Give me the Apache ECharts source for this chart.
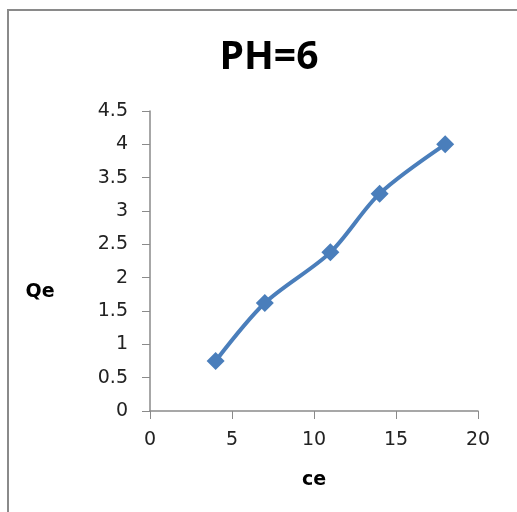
<!DOCTYPE html>
<html><head><meta charset="utf-8">
<script src="https://cdn.jsdelivr.net/npm/echarts@6/dist/echarts.min.js"></script>
<style>html,body{margin:0;padding:0;background:#fff}#c{width:517px;height:512px}</style>
</head><body><div id="c"></div>
<script>
const ceValues = [4, 7, 11, 14, 18];
const qeValues = [0.75, 1.62, 2.38, 3.26, 4.0];
const titleText = 'PH=6';
const xName = 'ce';
const yName = 'Qe';

const chart = echarts.init(document.getElementById('c'), null, {renderer: 'canvas'});
chart.setOption({
  animation: false,
  backgroundColor: '#ffffff',
  graphic: [{
    type: 'rect', shape: {x: 8, y: 10, width: 620, height: 620},
    style: {fill: 'none', stroke: '#8a8a8a', lineWidth: 2}, silent: true
  }, {
    type: 'text', x: 40, y: 292, silent: true,
    style: {text: yName, textAlign: 'center', textVerticalAlign: 'middle',
      font: 'bold 19px "DejaVu Sans"', fill: '#000'}
  }],
  title: {
    text: titleText, left: 264, top: 33, textAlign: 'center',
    textStyle: {fontFamily: 'Open Sans', fontWeight: 'bold', fontSize: 39, color: '#000'}
  },
  grid: {left: 150, top: 111, width: 328, height: 300, containLabel: false},
  xAxis: {
    type: 'value', min: 0, max: 20, interval: 5,
    name: xName, nameLocation: 'middle', nameGap: 60,
    nameTextStyle: {fontFamily: 'DejaVu Sans', fontWeight: 'bold', fontSize: 19, color: '#000'},
    axisLine: {show: true, lineStyle: {color: '#8a8a8a', width: 1.5}},
    axisTick: {show: true, length: 8, inside: false, lineStyle: {color: '#8a8a8a'}},
    axisLabel: {margin: 20, fontFamily: 'DejaVu Sans', fontSize: 19, color: '#222'},
    splitLine: {show: false}
  },
  yAxis: {
    type: 'value', min: 0, max: 4.5, interval: 0.5,
    axisLine: {show: true, lineStyle: {color: '#8a8a8a', width: 1.5}},
    axisTick: {show: true, length: 8, inside: false, lineStyle: {color: '#8a8a8a'}},
    axisLabel: {margin: 22, fontFamily: 'DejaVu Sans', fontSize: 19, color: '#222'},
    splitLine: {show: false}
  },
  series: [{
    type: 'line', smooth: 0.3,
    data: ceValues.map((x, i) => [x, qeValues[i]]),
    symbol: 'diamond', symbolSize: 18,
    lineStyle: {color: '#4a7ebb', width: 4},
    itemStyle: {color: '#4a7ebb'}
  }]
});
</script></body></html>
